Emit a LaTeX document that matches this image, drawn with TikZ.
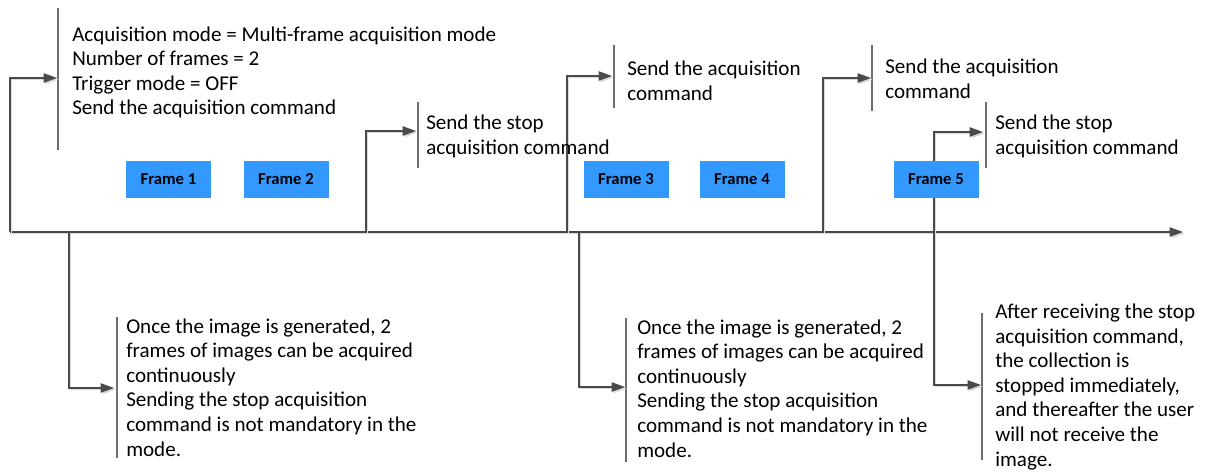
\documentclass[tikz,border=0pt]{standalone}
\usepackage{fontspec}
\setmainfont{Carlito}
\usetikzlibrary{arrows.meta}
\definecolor{ln}{HTML}{4A4A4A}
\definecolor{shd}{HTML}{DADADA}
\definecolor{fblue}{HTML}{3399FF}
\tikzset{
  conn/.style={draw=ln, line width=0.9pt, -{Triangle[length=10pt,width=7pt]},
    preaction={draw=shd, line width=1.2pt, transform canvas={shift={(1.2pt,-1.2pt)}}}},
  brk/.style={draw=ln!80, line width=0.8pt},
  txt/.style={anchor=base west, inner sep=0pt, align=left, font=\fontsize{15.8}{18.4}\selectfont},
  fbox/.style={fill=fblue, minimum width=63.75pt, minimum height=27.75pt, inner sep=0pt,
    font=\bfseries\fontsize{12.5}{14}\selectfont}
}
\begin{document}
\begin{tikzpicture}[x=0.75pt,y=-0.75pt]
\useasboundingbox (0,0) rectangle (1209,473);
% timeline
\coordinate (ta) at (10,232);
\coordinate (tz) at (1183,232);
\coordinate (p1) at (10,232);
\coordinate (p2) at (366,232);
\coordinate (p3) at (567,232);
\coordinate (p4) at (823,232);
\coordinate (p5) at (934,232);
\coordinate (q1) at (69,232);
\coordinate (q2) at (579,232);
% bracket anchor points
\coordinate (k1) at (57,78);
\coordinate (k2) at (416,131);
\coordinate (k3) at (612,76);
\coordinate (k4) at (871,78);
\coordinate (k5) at (983,132);
\coordinate (m1) at (114,388);
\coordinate (m2) at (625,387);
\coordinate (m3) at (981,385);
% brackets
\draw[brk] (58,8) -- (58,150);
\draw[brk] (418,102) -- (418,168);
\draw[brk] (614,45) -- (614,108);
\draw[brk] (872,45) -- (872,111);
\draw[brk] (986,102) -- (986,168);
\draw[brk] (117,317) -- (117,458);
\draw[brk] (626,318) -- (626,462);
\draw[brk] (982,313) -- (982,460);
% connectors
\draw[conn] (ta) -- (tz);
\draw[conn] (p1) |- (k1);
\draw[conn] (p2) |- (k2);
\draw[conn] (p3) |- (k3);
\draw[conn] (p4) |- (k4);
\draw[conn] (p5) |- (k5);
\draw[conn] (q1) |- (m1);
\draw[conn] (q2) |- (m2);
\draw[conn] (p5) |- (m3);
% texts (anchor = baseline of the last line)
\node[txt] (t1) at (72,115) {Acquisition mode = Multi-frame acquisition mode\\Number of frames = 2\\Trigger mode = OFF\\Send the acquisition command};
\node[txt] (t2) at (426,154.5) {Send the stop\\acquisition command};
\node[txt] (t3) at (627,100.5) {Send the acquisition\\command};
\node[txt] (t4) at (885,98.5) {Send the acquisition\\command};
\node[txt] (t5) at (995,154.5) {Send the stop\\acquisition command};
\node[txt] (b1) at (126,456) {Once the image is generated, 2\\frames of images can be acquired\\continuously\\Sending the stop acquisition\\command is not mandatory in the\\mode.};
\node[txt] (b2) at (637,457) {Once the image is generated, 2\\frames of images can be acquired\\continuously\\Sending the stop acquisition\\command is not mandatory in the\\mode.};
\node[txt] (b3) at (995,466) {After receiving the stop\\acquisition command,\\the collection is\\stopped immediately,\\and thereafter the user\\will not receive the\\image.};
% frames
\node[fbox] (f1) at (168.5,179.5) {Frame 1};
\node[fbox] (f2) at (286,179.5) {Frame 2};
\node[fbox] (f3) at (626,179.5) {Frame 3};
\node[fbox] (f4) at (742,179.5) {Frame 4};
\node[fbox] (f5) at (936,179.5) {Frame 5};
\end{tikzpicture}
\end{document}
